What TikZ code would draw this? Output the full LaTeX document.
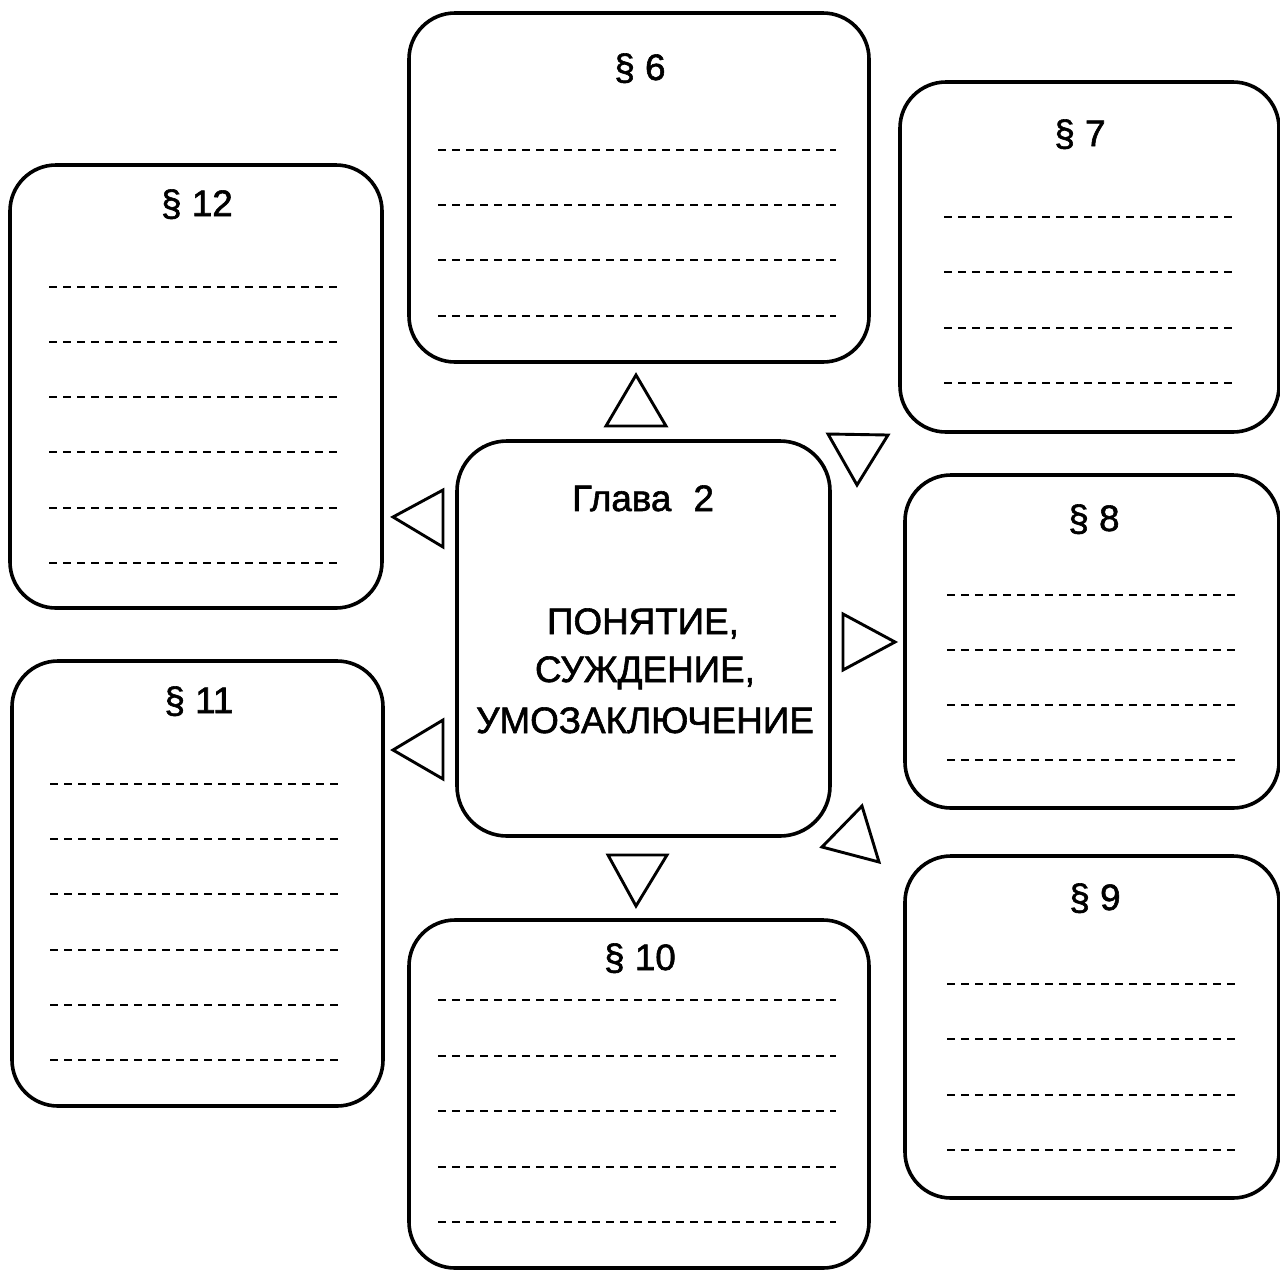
\documentclass[tikz,border=0pt]{standalone}
\usepackage{fontspec}
\setmainfont{Liberation Sans}
\newfontfamily\medfont[FakeBold=1.6]{Liberation Sans}
\begin{document}
\begin{tikzpicture}[x=0.5pt,y=-0.5pt,
  box/.style={draw=black,line width=1.8pt,rounded corners=23pt,inner sep=0pt},
  title/.style={font=\medfont\fontsize{18.4}{20}\selectfont,inner sep=0pt,anchor=base},
  dline/.style={line width=1.25pt,dash pattern=on 4pt off 3pt},
  tri/.style={draw=black,line width=1.45pt,line join=miter}]
\useasboundingbox (0,0) rectangle (1280,1270);
% boxes
\node[box,minimum width=230pt,minimum height=174.5pt] (s6) at (639,187.5) {};
\node[box,minimum width=189.5pt,minimum height=175pt] (s7) at (1089.5,257) {};
\node[box,minimum width=186pt,minimum height=221.5pt] (s12) at (196,386.5) {};
\node[box,minimum width=185.5pt,minimum height=222.5pt] (s11) at (197.5,883.5) {};
\node[box,minimum width=186.5pt,minimum height=197.5pt,rounded corners=25pt] (c) at (643.5,638.5) {};
\node[box,minimum width=187pt,minimum height=166.5pt] (s8) at (1092,641.5) {};
\node[box,minimum width=187pt,minimum height=171pt] (s9) at (1092,1027) {};
\node[box,minimum width=230pt,minimum height=174pt] (s10) at (639,1094) {};
% titles
\node[title] (t6) at (640,80) {§ 6};
\node[title] (t7) at (1080,146) {§ 7};
\node[title] (t12) at (197,216) {§ 12};
\node[title] (t11) at (199,713) {§ 11};
\node[title] (t8) at (1094,531) {§ 8};
\node[title] (t9) at (1095,910) {§ 9};
\node[title] (t10) at (640,970) {§ 10};
\node[title] (g) at (643,511) {Глава\hspace{0.6em}2};
\node[title] (l1) at (643,634) {ПОНЯТИЕ,};
\node[title] (l2) at (645,682) {СУЖДЕНИЕ,};
\node[title] (l3) at (645,733) {УМОЗАКЛЮЧЕНИЕ};
% dashed lines
\foreach \y in {150,205,260,316} \draw[dline] (438,\y) -- (836,\y);
\foreach \y in {217,272,328,383} \draw[dline] (944,\y) -- (1234,\y);
\foreach \y in {287,342,397,452,508,563} \draw[dline] (49,\y) -- (338,\y);
\foreach \y in {784,839,894,950,1005,1060} \draw[dline] (50,\y) -- (340,\y);
\foreach \y in {595,650,705,760} \draw[dline] (947,\y) -- (1238,\y);
\foreach \y in {984,1039,1095,1150} \draw[dline] (947,\y) -- (1238,\y);
\foreach \y in {1000,1056,1111,1167,1222} \draw[dline] (438,\y) -- (836,\y);
% triangles
\draw[tri] (636,375) -- (666,426) -- (606,426) -- cycle;
\draw[tri] (828,434) -- (888,435) -- (857,485) -- cycle;
\draw[tri] (393,517) -- (443,490) -- (443,547) -- cycle;
\draw[tri] (393,750) -- (443,720) -- (443,779) -- cycle;
\draw[tri] (608,855) -- (667,855) -- (636,906) -- cycle;
\draw[tri] (822,847) -- (862,806) -- (879,862) -- cycle;
\draw[tri] (895,642) -- (843,614) -- (843,670) -- cycle;
\end{tikzpicture}
\end{document}
